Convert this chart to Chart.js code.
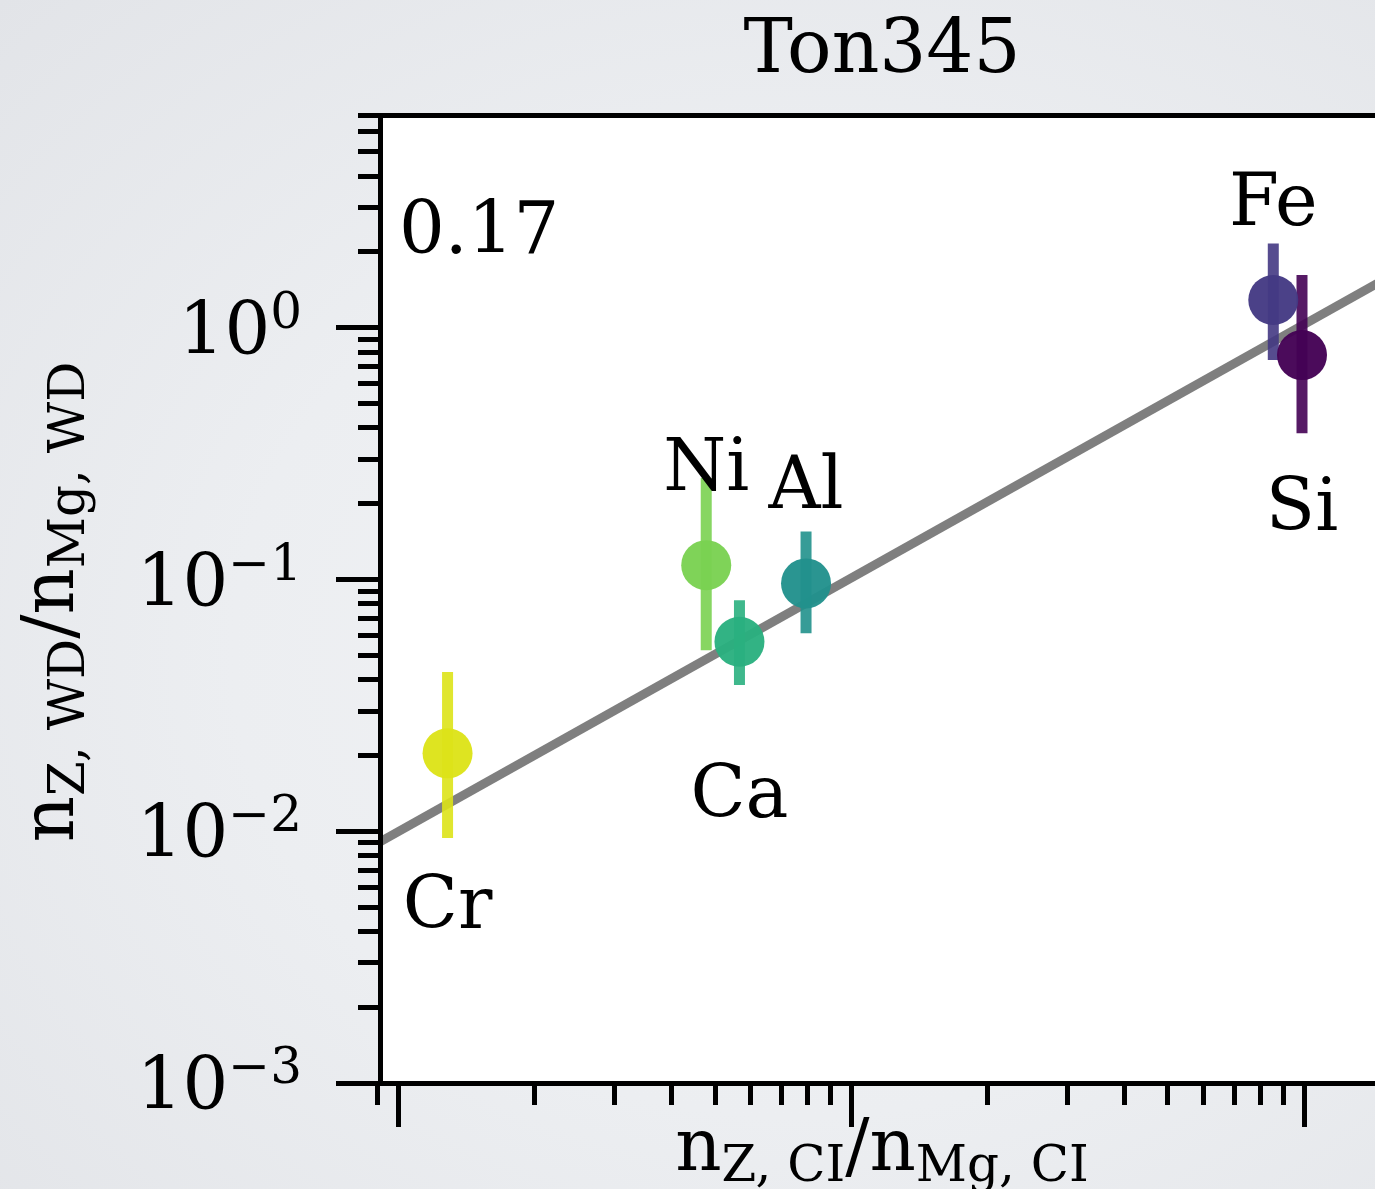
<!DOCTYPE html>
<html>
<head>
<meta charset="utf-8">
<script src="https://cdn.jsdelivr.net/npm/chart.js@4.4.1/dist/chart.umd.min.js"></script>
<style>
  html, body { margin: 0; padding: 0; width: 1375px; height: 1189px; overflow: hidden; }
  body { background: radial-gradient(ellipse at 58% 55%, #f2f3f5 0%, #eceef1 50%, #e2e4e8 100%); }
  canvas { position: absolute; left: 0; top: 0; }
</style>
</head>
<body>
<canvas id="c" width="1420" height="1189"></canvas>
<script>
// element abundances, CI chondrite ratio vs white dwarf ratio (both relative to Mg)
const elements = ['Si', 'Fe', 'Al', 'Ca', 'Ni', 'Cr'];
const xCI = [0.9886, 0.8543, 0.0794, 0.0566, 0.0478, 0.01283];
const yWD = [0.779, 1.289, 0.0965, 0.0566, 0.114, 0.0204];
const yErrLow = [0.381, 0.744, 0.0611, 0.0381, 0.0524, 0.0094];
const yErrHigh = [1.62, 2.16, 0.155, 0.0828, 0.253, 0.0429];
const colors = ['#440154', '#443983', '#21918c', '#2ab07f', '#7ad151', '#dde318'];
const labelSide = ['below', 'above', 'above', 'below', 'above', 'below'];

// reference line
const fitX = [0.0091, 1.5];
const fitY = [0.00908, 1.554];
const fitText = '0.17';
const titleText = 'Ton345';

// axes
const xRange = [0.0091, 1.5];
const yRange = [0.001, 7];
const xMajorTicks = [0.01, 0.1, 1];
const xMinorTicks = [0.009, 0.02, 0.03, 0.04, 0.05, 0.06, 0.07, 0.08, 0.09,
                     0.2, 0.3, 0.4, 0.5, 0.6, 0.7, 0.8, 0.9];
const yMajorTicks = [0.001, 0.01, 0.1, 1];
const yTickExponents = ['\u22123', '\u22122', '\u22121', '0'];
const yMinorTicks = [0.002, 0.003, 0.004, 0.005, 0.006, 0.007, 0.008, 0.009,
                     0.02, 0.03, 0.04, 0.05, 0.06, 0.07, 0.08, 0.09,
                     0.2, 0.3, 0.4, 0.5, 0.6, 0.7, 0.8, 0.9,
                     2, 3, 4, 5, 6, 7];

const FONT = '"DejaVu Serif", "Liberation Serif", serif';
const BIG = 72, SMALL = 50;

// draws a run of text pieces with different sizes / baseline shifts
function drawMath(ctx, parts, x, y, align) {
    let total = 0;
    parts.forEach(p => {
        ctx.font = p.size + 'px ' + FONT;
        p.w = ctx.measureText(p.t).width;
        total += p.w;
    });
    let cx = align === 'center' ? x - total / 2 : align === 'right' ? x - total : x;
    ctx.textAlign = 'left';
    ctx.textBaseline = 'alphabetic';
    parts.forEach(p => {
        ctx.font = p.size + 'px ' + FONT;
        ctx.fillText(p.t, cx, y + (p.dy || 0));
        cx += p.w;
    });
}

const datasets = [];
datasets.push({
    label: 'elements',
    data: elements.map((e, i) => ({ x: xCI[i], y: yWD[i] })),
    pointRadius: 25,
    pointHoverRadius: 25,
    pointBorderWidth: 0,
    pointBackgroundColor: colors.map(c => c + 'f5'),
    showLine: false,
    order: 0
});
elements.forEach((e, i) => {
    datasets.push({
        label: e + ' err',
        data: [{ x: xCI[i], y: yErrLow[i] }, { x: xCI[i], y: yErrHigh[i] }],
        showLine: true,
        borderColor: colors[i] + 'e6',
        borderWidth: 11,
        borderCapStyle: 'butt',
        pointRadius: 0,
        order: 1
    });
});
datasets.push({
    label: 'fit',
    data: fitX.map((x, i) => ({ x: x, y: fitY[i] })),
    showLine: true,
    borderColor: 'rgba(0,0,0,0.5)',
    borderWidth: 9,
    pointRadius: 0,
    order: 2
});

function tickList(list) {
    return scale => { scale.ticks = list.map(v => ({ value: v })); };
}

function logAxis(pos, range, ticks, len, weight, size, border) {
    return {
        type: 'logarithmic',
        position: pos,
        min: range[0],
        max: range[1],
        weight: weight,
        afterBuildTicks: tickList(ticks),
        afterFit: s => {
            if (s.isHorizontal()) s.height = size; else s.width = size;
        },
        ticks: { display: false, autoSkip: false },
        grid: {
            drawOnChartArea: false,
            drawTicks: len > 0,
            tickLength: len,
            tickWidth: 5,
            tickColor: '#000'
        },
        border: { display: border, color: '#000', width: 5 }
    };
}

const paper = {
    id: 'paper',
    beforeDraw(chart) {
        const { ctx, chartArea: a } = chart;
        ctx.save();
        ctx.fillStyle = '#ffffff';
        ctx.fillRect(a.left, a.top, a.right - a.left, a.bottom - a.top);
        ctx.restore();
    }
};

const texts = {
    id: 'texts',
    afterDraw(chart) {
        const { ctx, chartArea: a, scales } = chart;
        const xs = scales.x, ys = scales.y;
        ctx.save();
        ctx.fillStyle = '#000';

        // title
        drawMath(ctx, [{ t: titleText, size: 74 }], (a.left + a.right) / 2, 72, 'center');

        // y tick labels 10^n
        yMajorTicks.forEach((v, i) => {
            const py = ys.getPixelForValue(v);
            drawMath(ctx, [
                { t: '10', size: BIG },
                { t: yTickExponents[i], size: SMALL, dy: -26 }
            ], 302, py + 26, 'right');
        });

        // x title
        drawMath(ctx, [
            { t: 'n', size: BIG },
            { t: 'Z, CI', size: SMALL, dy: 11 },
            { t: '/', size: BIG },
            { t: 'n', size: BIG },
            { t: 'Mg, CI', size: SMALL, dy: 11 }
        ], (a.left + a.right) / 2, 1170, 'center');

        // y title (rotated)
        ctx.save();
        ctx.translate(73, (a.top + a.bottom) / 2 + 3);
        ctx.rotate(-Math.PI / 2);
        drawMath(ctx, [
            { t: 'n', size: BIG },
            { t: 'Z, WD', size: SMALL, dy: 11 },
            { t: '/', size: BIG },
            { t: 'n', size: BIG },
            { t: 'Mg, WD', size: SMALL, dy: 11 }
        ], 0, 0, 'center');
        ctx.restore();

        // element labels
        elements.forEach((e, i) => {
            const px = xs.getPixelForValue(xCI[i]);
            const py = ys.getPixelForValue(yWD[i]);
            const by = labelSide[i] === 'above' ? py - 75 : py + 175;
            drawMath(ctx, [{ t: e, size: BIG }], px, by, 'center');
        });

        // slope text
        drawMath(ctx, [{ t: fitText, size: BIG }], a.left + 19, a.top + 138, 'left');
        ctx.restore();
    }
};

new Chart(document.getElementById('c'), {
    type: 'scatter',
    data: { datasets: datasets },
    options: {
        responsive: false,
        animation: false,
        devicePixelRatio: 1,
        layout: { padding: { top: 115, left: 0, right: 36, bottom: 0 } },
        plugins: {
            legend: { display: false },
            tooltip: { enabled: false },
            title: { display: false }
        },
        scales: {
            x: logAxis('bottom', xRange, xMajorTicks, 44, 1, 106, true),
            xMinor: logAxis('bottom', xRange, xMinorTicks, 22, 0, 0, false),
            xTop: logAxis('top', xRange, xMajorTicks, 0, 0, 0, true),
            y: logAxis('left', yRange, yMajorTicks, 44, 1, 380, true),
            yMinor: logAxis('left', yRange, yMinorTicks, 22, 0, 0, false)
        }
    },
    plugins: [paper, texts]
});
</script>
</body>
</html>
